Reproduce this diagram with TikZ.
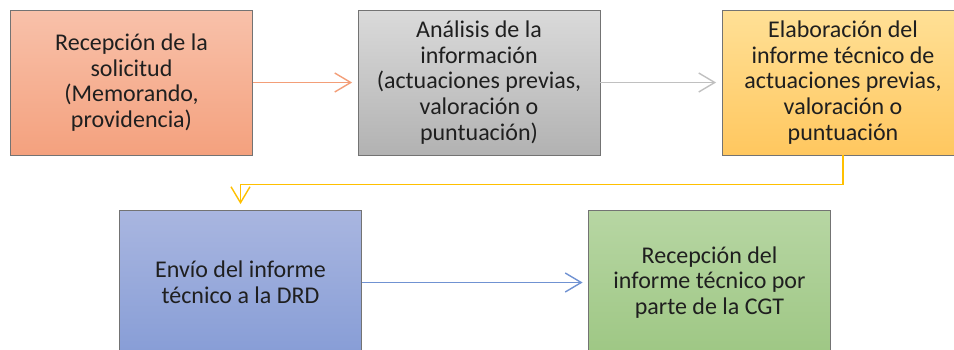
\documentclass[tikz,border=0pt]{standalone}
\usepackage{fontspec}
\setmainfont{Carlito}
\usetikzlibrary{arrows.meta}

\definecolor{salmonTop}{RGB}{248,193,170}
\definecolor{salmonBot}{RGB}{244,161,126}
\definecolor{greyTop}{RGB}{218,218,218}
\definecolor{greyBot}{RGB}{178,178,178}
\definecolor{goldTop}{RGB}{255,224,150}
\definecolor{goldBot}{RGB}{255,199,95}
\definecolor{blueTop}{RGB}{169,182,224}
\definecolor{blueBot}{RGB}{135,157,214}
\definecolor{greenTop}{RGB}{183,214,163}
\definecolor{greenBot}{RGB}{158,199,132}
\definecolor{orangeLine}{RGB}{243,158,120}
\definecolor{greyLine}{RGB}{192,192,192}
\definecolor{goldLine}{RGB}{255,192,0}
\definecolor{blueLine}{RGB}{112,146,210}

\begin{document}
\begin{tikzpicture}
  [x=1pt,y=-1pt,
   every node/.style={draw=black!55,line width=0.8pt,minimum width=242pt,
     minimum height=145pt,align=center,inner sep=2pt,text=black!88,
     font=\fontsize{24}{25.7}\selectfont},
   link/.style={line width=1.4pt,shorten >=5.5pt,
     -{Straight Barb[length=16pt,width=19pt,line width=1.4pt]}}]
  \useasboundingbox (0,0) rectangle (954,349);
  \clip (0,0) rectangle (954,349);

  \node[top color=salmonTop,bottom color=salmonBot] (recep) at (131.5,82.5)
    {Recepción de la\\solicitud\\(Memorando,\\providencia)};
  \node[top color=greyTop,bottom color=greyBot] (anal) at (479,82.5)
    {Análisis de la\\información\\(actuaciones previas,\\valoración o\\puntuación)};
  \node[top color=goldTop,bottom color=goldBot] (elab) at (843,82.5)
    {Elaboración del\\informe técnico de\\actuaciones previas,\\valoración o\\puntuación};
  \node[top color=blueTop,bottom color=blueBot] (envio) at (240.5,282.5)
    {Envío del informe\\técnico a la DRD};
  \node[top color=greenTop,bottom color=greenBot] (cgt) at (709.5,282.5)
    {Recepción del\\informe técnico por\\parte de la CGT};

  \foreach \from/\to/\col in {recep/anal/orangeLine,anal/elab/greyLine,envio/cgt/blueLine}
    \draw[link,\col] (\from) -- (\to);
  \draw[link,goldLine] (elab.south) -- ++(0,29) -| (envio.north);

\end{tikzpicture}
\end{document}
